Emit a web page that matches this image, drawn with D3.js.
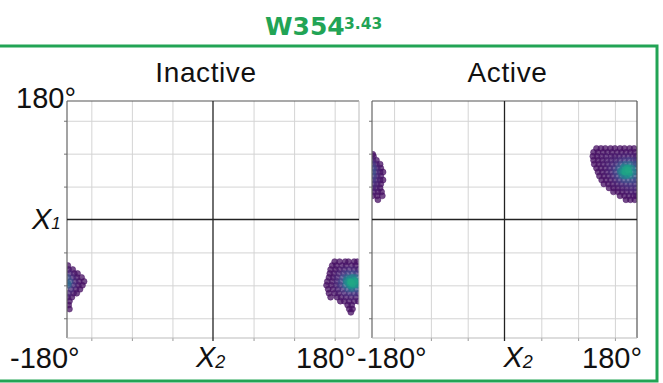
<!DOCTYPE html>
<html><head><meta charset="utf-8">
<script src="https://cdn.jsdelivr.net/npm/d3@7"></script>
<style>html,body{margin:0;padding:0;background:#fff;}svg{display:block;}</style>
</head><body><svg id="c" width="663" height="383"></svg>
<script>
// ---- data (degrees) ----
const angleDomain = [-180, 180];
const gridValues = [-150, -100, -50, 50, 100, 150];
const panelNames = ["Inactive", "Active"];
const titleMain = "W354";
const titleSup = "3.43";
const axisLabelMin = "-180°";
const axisLabelMax = "180°";

// rows: [x1, [x2 values...]]  (x2 wraps around ±180)
const inactiveRows = [
  [-64,  [150,156,163,167,174,178]],
  [-70,  [147,152,159,164,171,176,-179]],
  [-76,  [145,151,156,162,168,174,179,-178,-173]],
  [-82,  [144,149,155,161,166,172,177,-177,-171,-167]],
  [-88,  [143,148,153,160,165,171,176,-179,-173,-168,-162]],
  [-94,  [141,147,153,158,164,169,175,179,-176,-170,-165,-159]],
  [-100, [140,146,152,157,163,168,174,179,-178,-172,-166,-161]],
  [-106, [142,148,154,160,166,171,177,-175,-169,-164]],
  [-112, [143,150,155,162,168,174,179,-178,-172,-168]],
  [-118, [145,153,158,164,170,176,-179,-174]],
  [-124, [157,162,168,174,179,-177]],
  [-130, [166,171,-178]],
  [-136, [168,172,-177]],
  [-141, [170]]
];
const inactiveCore = [[170,-95],[168,-90],[172,-98],[166,-96],[174,-92],[176,-99],[170,-101],[167,-93],[173,-88],[171,-104],[164,-92],[178,-96],[-179,-97],[175,-95],[169,-97]];

const activeRows = [
  [108, [125,131,137,144,150,157,163,170,176]],
  [102, [121,127,134,140,146,153,159,165,171,177]],
  [99,  [-179]],
  [96,  [120,126,132,138,145,150,156,162,168,174,179,-178]],
  [90,  [121,127,133,139,145,151,157,163,169,175,179,-179,-174]],
  [84,  [122,128,134,140,146,152,158,164,170,176,179,-179,-174,-169]],
  [78,  [125,131,137,143,149,155,161,167,173,178,-178,-173,-168]],
  [72,  [127,133,139,145,151,157,163,169,175,179,-179,-174,-169,-165]],
  [66,  [129,135,141,147,153,159,165,171,177,-178,-173,-168]],
  [60,  [132,138,144,150,156,162,168,174,179,-179,-174,-169,-165]],
  [54,  [135,141,147,153,159,165,171,177,-178,-173,-168]],
  [48,  [142,148,154,160,166,172,178,-179,-174,-169]],
  [42,  [148,154,160,166,172,178,-178,-172,-167]],
  [36,  [157,163,169,175,179,-179,-173,-166]],
  [30,  [165,171,177,-172]]
];
const activeCore = [[164,72],[160,70],[168,75],[163,66],[166,78],[158,74],[170,70],[162,80],[167,68],[164,76],[161,73],[169,79]];

// ---- layout ----
const svg = d3.select("#c");
const green = "#22a455";
const panelTop = 101, panelBottom = 338;
const panels = [
  {name: panelNames[0], left: 67, right: 359, rows: inactiveRows, core: inactiveCore, rightDark: false},
  {name: panelNames[1], left: 372, right: 637, rows: activeRows, core: activeCore, rightDark: true}
];

// green frame
svg.append("rect").attr("x", -3).attr("y", 46).attr("width", 660).attr("height", 335)
  .attr("fill", "none").attr("stroke", green).attr("stroke-width", 3);

// title
const t = svg.append("text").attr("y", 35).attr("fill", green)
  .attr("font-family", "DejaVu Sans, Verdana, sans-serif").attr("font-weight", "bold");
t.append("tspan").attr("x", 265).attr("font-size", 25).text(titleMain);
t.append("tspan").attr("x", 344).attr("dy", -6).attr("font-size", 15.5).text(titleSup);

const font = "Liberation Sans, Arial, sans-serif";

panels.forEach((p, i) => {
  const x = d3.scaleLinear().domain(angleDomain).range([p.left, p.right]);
  const y = d3.scaleLinear().domain(angleDomain).range([panelBottom, panelTop]);
  const g = svg.append("g");
  const clipId = "clip" + i;
  svg.append("clipPath").attr("id", clipId).append("rect")
    .attr("x", p.left).attr("y", panelTop).attr("width", p.right - p.left).attr("height", panelBottom - panelTop);

  // grid
  g.append("g").attr("transform", `translate(0,${panelBottom})`)
    .call(d3.axisBottom(x).tickValues(gridValues).tickSize(-(panelBottom - panelTop)).tickFormat(""))
    .call(a => a.select(".domain").remove())
    .call(a => a.selectAll("line").attr("stroke", "#d4d4d4"));
  g.append("g").attr("transform", `translate(${p.left},0)`)
    .call(d3.axisLeft(y).tickValues(gridValues).tickSize(-(p.right - p.left)).tickFormat(""))
    .call(a => a.select(".domain").remove())
    .call(a => a.selectAll("line").attr("stroke", "#d4d4d4"));
  // outward ticks
  g.append("g").attr("transform", `translate(${p.left},0)`)
    .call(d3.axisLeft(y).tickValues(gridValues).tickSize(3).tickFormat(""))
    .call(a => a.select(".domain").remove())
    .call(a => a.selectAll("line").attr("stroke", "#777"));
  g.append("g").attr("transform", `translate(0,${panelBottom})`)
    .call(d3.axisBottom(x).tickValues(gridValues).tickSize(3).tickFormat(""))
    .call(a => a.select(".domain").remove())
    .call(a => a.selectAll("line").attr("stroke", "#999"));

  // points
  const pts = [];
  p.rows.forEach(([x1, xs]) => xs.forEach(x2 => pts.push({x2, x1})));
  p.core.forEach(([x2, x1]) => pts.push({x2, x1}));
  const sig = 10;
  pts.forEach(a => {
    let s = 0;
    pts.forEach(b => {
      const dx = ((a.x2 - b.x2 + 540) % 360) - 180;
      const dy = a.x1 - b.x1;
      s += Math.exp(-(dx*dx + dy*dy) / (2*sig*sig));
    });
    a.d = s;
  });
  const [dmin, dmax] = d3.extent(pts, d => d.d);
  pts.sort((a, b) => a.d - b.d);
  const col = d => d3.interpolateViridis(0.04 + 0.56 * Math.pow((d.d - dmin) / (dmax - dmin), 3.5));
  g.append("g").attr("clip-path", `url(#${clipId})`)
    .selectAll("circle").data(pts).join("circle")
    .attr("cx", d => x(d.x2)).attr("cy", d => y(d.x1)).attr("r", 3)
    .attr("fill", col).attr("fill-opacity", 0.75)
    .attr("stroke", col).attr("stroke-opacity", 0.6).attr("stroke-width", 0.8);

  // frame
  g.append("line").attr("x1", p.left).attr("x2", p.right).attr("y1", panelTop).attr("y2", panelTop).attr("stroke", "#555").attr("stroke-width", 1.2);
  g.append("line").attr("x1", p.left).attr("x2", p.left).attr("y1", panelTop).attr("y2", panelBottom).attr("stroke", "#666").attr("stroke-width", 1.2);
  g.append("line").attr("x1", p.right).attr("x2", p.right).attr("y1", panelTop).attr("y2", panelBottom).attr("stroke", p.rightDark ? "#555" : "#bbb").attr("stroke-width", p.rightDark ? 1.2 : 1);
  g.append("line").attr("x1", p.left).attr("x2", p.right).attr("y1", panelBottom).attr("y2", panelBottom).attr("stroke", "#bbb");
  // zero lines
  g.append("line").attr("x1", x(0)).attr("x2", x(0)).attr("y1", panelTop).attr("y2", panelBottom + 3).attr("stroke", "#222").attr("stroke-width", 1.3);
  g.append("line").attr("x1", p.left).attr("x2", p.right).attr("y1", y(0)).attr("y2", y(0)).attr("stroke", "#222").attr("stroke-width", 1.3);

  // panel title
  svg.append("text").attr("x", (p.left + p.right) / 2 + (i === 0 ? -7 : 3)).attr("y", 82)
    .attr("text-anchor", "middle").attr("font-family", font).attr("font-size", 28).attr("fill", "#111")
    .attr("letter-spacing", 0.6).text(p.name);

  // bottom labels
  const lab = (txt, xx, anchor) => svg.append("text").attr("x", xx).attr("y", 368)
    .attr("text-anchor", anchor).attr("font-family", font).attr("font-size", 29).attr("fill", "#111").text(txt);
  lab(axisLabelMin, i === 0 ? 10 : 357, "start");
  lab(axisLabelMax, i === 0 ? 356 : 642, "end");
  const xl = svg.append("text").attr("x", x(0) - (i === 0 ? 17 : 1)).attr("y", 367)
    .attr("font-family", font).attr("font-style", "italic").attr("fill", "#111");
  xl.append("tspan").attr("font-size", 29).text("X");
  xl.append("tspan").attr("font-size", 18).attr("dy", 1).text("2");
});

// left axis labels
svg.append("text").attr("x", 16).attr("y", 108).attr("font-family", font).attr("font-size", 29).attr("fill", "#111").text(axisLabelMax);
const yl = svg.append("text").attr("x", 32).attr("y", 229).attr("font-family", font).attr("font-style", "italic").attr("fill", "#111");
yl.append("tspan").attr("font-size", 29).text("X");
yl.append("tspan").attr("font-size", 17).attr("dy", 0).text("1");
</script></body></html>
